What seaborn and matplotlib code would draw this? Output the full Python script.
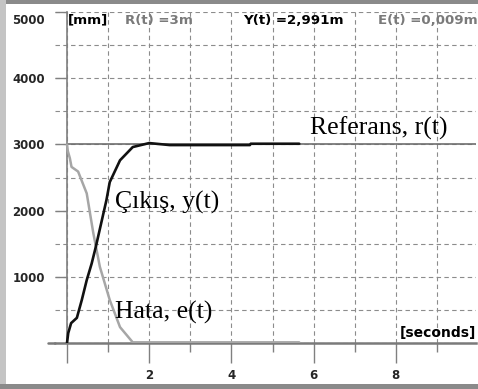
import matplotlib
matplotlib.use("Agg")
import matplotlib.pyplot as plt
import matplotlib.transforms as mtransforms
from matplotlib.patches import Rectangle
from matplotlib.ticker import MultipleLocator, FixedLocator
import seaborn as sns
import pandas as pd

# ---- data ----
t_out = [0, 0.03, 0.1, 0.24, 0.36, 0.48, 0.6, 0.7, 0.96, 1.04, 1.29, 1.6, 2.0, 2.5, 4.45, 4.47, 5.65]
y_out = [0, 150, 300, 380, 650, 950, 1200, 1450, 2160, 2430, 2760, 2960, 3020, 2990, 2990, 3010, 3010]

t_err = [0, 0.02, 0.07, 0.11, 0.27, 0.48, 0.64, 0.8, 1.04, 1.29, 1.6, 5.65]
e_err = [3000, 2900, 2790, 2660, 2590, 2260, 1660, 1150, 650, 240, 10, 10]

t_ref = [0, 10]
r_ref = [3000, 3000]

y_ticks = [1000, 2000, 3000, 4000, 5000]
y_ticklabels = ["1000", "2000", "3000", "4000", "5000"]
x_ticks = [0, 2, 4, 6, 8]
x_ticklabels = ["", "2", "4", "6", "8"]

header_texts = ["[mm]", "R(t) =3m", "Y(t) =2,991m", "E(t) =0,009m"]
header_x = [0.02, 1.41, 4.28, 7.57]
header_colors = ["black", "#7a7a7a", "black", "#7a7a7a"]

labels = ["Referans, r(t)", "Çıkış, y(t)", "Hata, e(t)"]
label_x = [5.91, 1.17, 1.17]
label_y = [3248, 2130, 468]

df_out = pd.DataFrame({"t": t_out, "v": y_out})
df_err = pd.DataFrame({"t": t_err, "v": e_err})
df_ref = pd.DataFrame({"t": t_ref, "v": r_ref})

sns.set_style("white")
plt.rcParams["font.family"] = ["DejaVu Sans"]

W, H = 478, 389
fig = plt.figure(figsize=(W / 100, H / 100), dpi=100)
fig.patch.set_facecolor("white")

# axes geometry in pixels
x0_px, x_right_px = 55, 476
y_bottom_px, y_top_px = 343, 12
px_per_s = 41.1
xmin = -(67 - x0_px) / px_per_s
xmax = (x_right_px - 67) / px_per_s
ax = fig.add_axes([x0_px / W, (H - y_bottom_px) / H,
                   (x_right_px - x0_px) / W, (y_bottom_px - y_top_px) / H])
ax.set_facecolor("white")

ax.set_xlim(xmin, xmax)
ax.set_ylim(0, 5000)

# grid
ax.xaxis.set_major_locator(FixedLocator(x_ticks))
ax.xaxis.set_minor_locator(FixedLocator([1, 3, 5, 7, 9]))
ax.yaxis.set_major_locator(FixedLocator(y_ticks))
ax.yaxis.set_minor_locator(MultipleLocator(500))
ax.set_axisbelow(True)
ax.grid(True, which="both", color="#8c8c8c", linestyle=(0, (4, 3)), linewidth=0.8)

# lines
sns.lineplot(data=df_ref, x="t", y="v", ax=ax, color="#6e6e6e", linewidth=1.2, zorder=3)
sns.lineplot(data=df_err, x="t", y="v", ax=ax, color="#a6a6a6", linewidth=1.8, zorder=4)
sns.lineplot(data=df_out, x="t", y="v", ax=ax, color="#111111", linewidth=1.9, zorder=5)
ax.set_xlabel("")
ax.set_ylabel("")

# spines
for s in ["top", "right"]:
    ax.spines[s].set_visible(False)
ax.spines["left"].set_position(("data", 0))
ax.spines["left"].set_color("#808080")
ax.spines["left"].set_linewidth(1.2)
ax.spines["bottom"].set_color("#7a7a7a")
ax.spines["bottom"].set_linewidth(1.8)
ax.spines["bottom"].set_zorder(2)
ax.plot([xmin - 7 / px_per_s, xmin], [0, 0], color="#7a7a7a", linewidth=1.8, clip_on=False)

# ticks
ax.set_yticklabels(y_ticklabels, fontsize=8.5, fontweight="bold")
ax.set_xticklabels(x_ticklabels, fontsize=8.5, fontweight="bold")
ax.tick_params(axis="y", which="major", direction="out", length=8.6, width=1.0,
               color="#808080", pad=7.2, left=True)
ax.tick_params(axis="y", which="minor", left=False)
ax.tick_params(axis="x", which="major", direction="out", length=14.4, width=1.0,
               color="#808080", pad=4.5, bottom=True)
ax.tick_params(axis="x", which="minor", direction="out", length=6.5, width=1.0,
               color="#808080", bottom=True)
# shift the 5000 label down slightly as in the reference
for lbl in ax.get_yticklabels():
    if lbl.get_text() == "5000":
        lbl.set_transform(lbl.get_transform() +
                          mtransforms.ScaledTranslation(0, -7 / 100, fig.dpi_scale_trans))

# header texts
for txt, xx, cc in zip(header_texts, header_x, header_colors):
    ax.text(xx, 4879, txt, color=cc, fontsize=9.6, fontweight="bold",
            ha="left", va="center", zorder=6)
ax.text(8.1, 150, "[seconds]", color="black", fontsize=10, fontweight="bold",
        ha="left", va="center", zorder=6, clip_on=False)

# curve labels
for txt, xx, yy in zip(labels, label_x, label_y):
    ax.text(xx, yy, txt, fontsize=18.5, family="Liberation Serif", color="black",
            ha="left", va="center", zorder=6)

# window frame
fig.patches.append(Rectangle((0, 1 - 4 / H), 1, 4 / H, transform=fig.transFigure,
                             facecolor="#8a8a8a", edgecolor="none", zorder=0))
fig.patches.append(Rectangle((0, 0), 6 / W, 1, transform=fig.transFigure,
                             facecolor="#c4c4c4", edgecolor="none", zorder=0))
fig.patches.append(Rectangle((0, 0), 1, 5 / H, transform=fig.transFigure,
                             facecolor="#8a8a8a", edgecolor="none", zorder=0))

fig.savefig("out.png", dpi=100)
